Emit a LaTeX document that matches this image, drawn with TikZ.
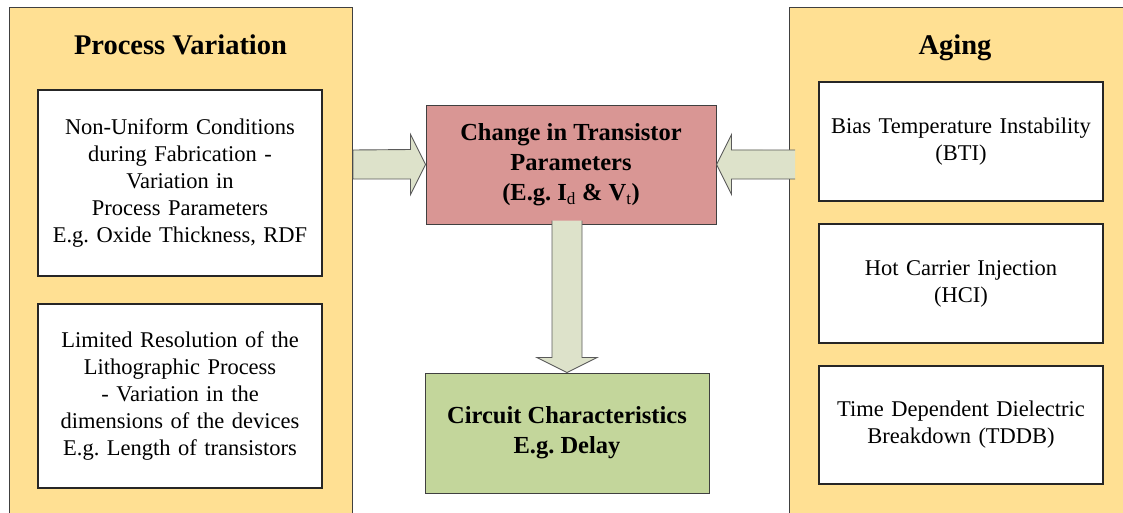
\documentclass[tikz,border=0pt]{standalone}
\usepackage{fontspec}
\setmainfont{Liberation Serif}
\usetikzlibrary{calc}
\definecolor{ylw}{HTML}{FFE093}
\definecolor{redbox}{HTML}{D99694}
\definecolor{grnbox}{HTML}{C3D69B}
\definecolor{arrfill}{HTML}{DDE2CA}
\definecolor{bordc}{HTML}{404040}
\definecolor{arrbord}{HTML}{5A5A5A}
\frenchspacing
\begin{document}
\begin{tikzpicture}[x=1pt,y=-1pt,
  panel/.style={draw=bordc, fill=ylw, line width=1pt, inner sep=0pt, anchor=north west},
  paneltitle/.style={font=\fontsize{28.5}{34}\selectfont\bfseries, anchor=base, inner sep=0pt},
  itembox/.style={draw=black!85, fill=white, line width=1.1pt, minimum width=284pt, text width=276pt, align=center, inner sep=0pt, font=\fontsize{22.5}{27}\selectfont},
  mainbox/.style={draw=bordc, line width=1pt, align=center, inner sep=0pt, font=\fontsize{24.5}{30}\selectfont\bfseries},
  fatfill/.style={fill=arrfill},
  fatline/.style={draw=arrbord, line width=0.9pt, line join=miter}
]
\useasboundingbox (0,0) rectangle (1123,512);
\clip (0,0) rectangle (1123,512);

% panels
\node[panel, minimum width=343pt, minimum height=530pt] (pv) at (9,7) {};
\node[panel, minimum width=350pt, minimum height=530pt] (ag) at (789,7) {};
\node[paneltitle] (pvt) at (180.5,54.5) {Process Variation};
\node[paneltitle] (agt) at (955,54.5) {Aging};

% process variation items
\node[itembox, minimum height=186pt] (pv1) at (180,183) {Non-Uniform Conditions\\during Fabrication -\\Variation in\\Process Parameters\\E.g. Oxide Thickness, RDF};
\node[itembox, minimum height=184pt] (pv2) at (180,396) {Limited Resolution of the\\Lithographic Process\\- Variation in the\\dimensions of the devices\\E.g. Length of transistors};

% aging items
\node[itembox, minimum height=119pt] (ag1) at (961,141.5) {Bias Temperature Instability\\(BTI)};
\node[itembox, minimum height=119pt] (ag2) at (961,283.5) {Hot Carrier Injection\\(HCI)};
\node[itembox, minimum height=118pt] (ag3) at (961,425) {Time Dependent Dielectric\\Breakdown (TDDB)};

% central boxes
\node[mainbox, fill=redbox, minimum width=290pt, minimum height=119pt] (red) at (571,164.5) {Change in Transistor\\Parameters\\(E.g. I\textsubscript{\normalfont d} \& V\textsubscript{\normalfont t})};
\node[mainbox, fill=grnbox, minimum width=284pt, minimum height=120pt] (grn) at (567,433) {Circuit Characteristics\\E.g. Delay};

% left fat arrow: process variation -> change
\path[fatfill,fatline] (red.west) -- ++(-15,-30) -- ++(0,15) -- ($(pv.east |- red.west)+(0,-14.5)$) -- ++(0,29) -- ($(red.west)+(-15,14.5)$) -- ++(0,15.5) -- cycle;

% right fat arrow: aging -> change
\fill[fatfill] (red.east) -- ++(15,-30) -- ++(0,15) -- ($(ag.west |- red.east)+(6,-14.5)$) -- ++(0,29) -- ($(red.east)+(15,14.5)$) -- ++(0,15.5) -- cycle;
\draw[fatline] ($(ag.west |- red.east)+(6,-14.5)$) -- ($(red.east)+(15,-14.5)$) -- ++(0,-15.5) -- (red.east) -- ++(15,30) -- ++(0,-15.5) -- ($(ag.west |- red.east)+(6,14.5)$);

% down fat arrow: change -> circuit characteristics
\fill[fatfill] (grn.north) -- ++(-30,-15) -- ++(15,0) -- ($(grn.north |- red.south)+(-15,-4)$) -- ++(30,0) -- ($(grn.north)+(15,-15)$) -- ++(15,0) -- cycle;
\draw[fatline] ($(grn.north |- red.south)+(-15,-4)$) -- ($(grn.north)+(-15,-15)$) -- ++(-15,0) -- (grn.north) -- ++(30,-15) -- ++(-15,0) -- ($(grn.north |- red.south)+(15,-4)$);
\end{tikzpicture}
\end{document}
